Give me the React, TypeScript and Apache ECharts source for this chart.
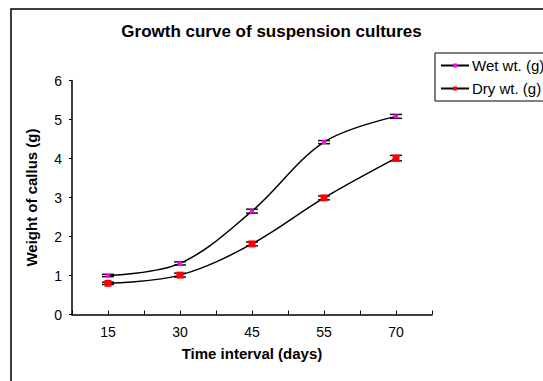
import React, { useEffect, useRef } from "react";
import * as echarts from "echarts";

const days = ["15", "30", "45", "55", "70"];
const wetWt = [1.0, 1.31, 2.65, 4.42, 5.08];
const wetErr = [0.03, 0.04, 0.05, 0.04, 0.05];
const dryWt = [0.8, 1.01, 1.81, 2.99, 4.01];
const dryErr = [0.03, 0.05, 0.05, 0.05, 0.07];
const yTicks = [0, 1, 2, 3, 4, 5, 6];

const FONT = "'Liberation Sans', Arial, sans-serif";

// Each day sits at an odd position of a 0..10 axis (ticks at every unit)
const xPos = (i: number) => 2 * i + 1;

function errData(vals: number[], errs: number[]) {
  return vals.map((v, i) => [xPos(i), v - errs[i], v + errs[i]]);
}

export default function App() {
  const ref = useRef<HTMLDivElement>(null);
  useEffect(() => {
    if (!ref.current) return;
    const chart = echarts.init(ref.current, undefined, { renderer: "svg" });
    const renderErr = (params: any, api: any) => {
      const x = api.value(0);
      const lo = api.coord([x, api.value(1)]);
      const hi = api.coord([x, api.value(2)]);
      const cap = 6;
      const style = { stroke: "#111", lineWidth: 1.5 };
      return {
        type: "group",
        children: [
          { type: "line", shape: { x1: lo[0], y1: lo[1], x2: hi[0], y2: hi[1] }, style },
          { type: "line", shape: { x1: lo[0] - cap, y1: lo[1], x2: lo[0] + cap, y2: lo[1] }, style },
          { type: "line", shape: { x1: hi[0] - cap, y1: hi[1], x2: hi[0] + cap, y2: hi[1] }, style },
        ],
      };
    };
    chart.setOption({
      animation: false,
      backgroundColor: "#fff",
      textStyle: { fontFamily: FONT },
      title: {
        text: "Growth curve of suspension cultures",
        left: "center",
        top: 23,
        padding: 0,
        textStyle: { fontFamily: FONT, fontWeight: "bold", fontSize: 17, color: "#000" },
      },
      graphic: [
        {
          type: "rect",
          shape: { x: 11, y: 9, width: 700, height: 500 },
          style: { fill: "none", stroke: "#000", lineWidth: 1.5 },
          silent: true,
        },
      ],
      legend: {
        orient: "vertical",
        left: 435,
        top: 53,
        padding: [5, 12, 5, 5],
        itemGap: 8,
        itemWidth: 28,
        itemHeight: 5,
        borderColor: "#000",
        borderWidth: 1,
        textStyle: { fontFamily: FONT, fontSize: 15, color: "#000", padding: [0, 0, 0, -2] },
        data: ["Wet wt. (g)", "Dry wt. (g)"],
      },
      grid: { left: 72, right: 111, top: 80.5, bottom: 66.5 },
      xAxis: {
        type: "value",
        min: 0,
        max: 10,
        interval: 1,
        name: "Time interval (days)",
        nameLocation: "middle",
        nameGap: 31,
        nameTextStyle: { fontFamily: FONT, fontWeight: "bold", fontSize: 15, color: "#000" },
        splitLine: { show: false },
        axisLine: { lineStyle: { color: "#000", width: 1.5 } },
        axisTick: { inside: true, length: 4, lineStyle: { color: "#000" } },
        axisLabel: {
          fontFamily: FONT,
          fontSize: 14,
          color: "#000",
          margin: 10,
          showMinLabel: true,
          showMaxLabel: true,
          formatter: (v: number) => (v % 2 === 1 ? days[(v - 1) / 2] : ""),
        },
      },
      yAxis: {
        type: "value",
        min: yTicks[0],
        max: yTicks[yTicks.length - 1],
        interval: 1,
        name: "Weight of callus (g)",
        nameLocation: "middle",
        nameGap: 33,
        nameTextStyle: { fontFamily: FONT, fontWeight: "bold", fontSize: 15, color: "#000" },
        splitLine: { show: false },
        axisLine: { show: true, lineStyle: { color: "#000", width: 1.5 } },
        axisTick: { show: true, length: 3, lineStyle: { color: "#000" } },
        axisLabel: { fontFamily: FONT, fontSize: 14, color: "#000", margin: 10 },
      },
      series: [
        {
          type: "custom",
          name: "wetErr",
          renderItem: renderErr,
          data: errData(wetWt, wetErr),
          encode: { x: 0, y: [1, 2] },
          z: 1,
          silent: true,
        },
        {
          type: "custom",
          name: "dryErr",
          renderItem: renderErr,
          data: errData(dryWt, dryErr),
          encode: { x: 0, y: [1, 2] },
          z: 1,
          silent: true,
        },
        {
          type: "line",
          name: "Wet wt. (g)",
          data: wetWt.map((v, i) => [xPos(i), v]),
          smooth: 0.35,
          symbol: "rect",
          symbolSize: 4,
          lineStyle: { color: "#000", width: 1.5 },
          itemStyle: { color: "#FF00FF" },
          z: 3,
        },
        {
          type: "line",
          name: "Dry wt. (g)",
          data: dryWt.map((v, i) => [xPos(i), v]),
          smooth: 0.35,
          symbol: "rect",
          symbolSize: 7,
          lineStyle: { color: "#000", width: 1.5 },
          itemStyle: { color: "#FF0000" },
          z: 3,
        },
      ],
    });
    return () => chart.dispose();
  }, []);
  return <div ref={ref} style={{ width: 543, height: 381, position: "fixed", left: 0, top: 0 }} />;
}
